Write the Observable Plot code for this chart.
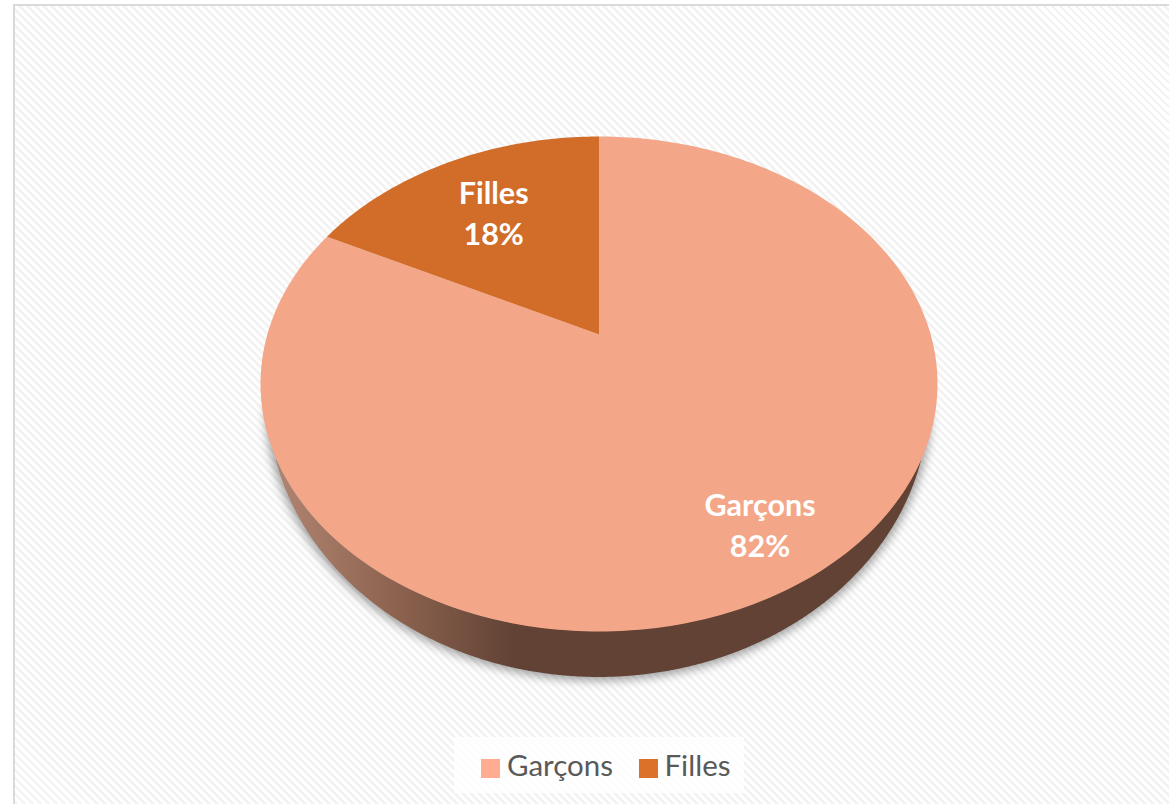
<!DOCTYPE html>
<html lang="fr">
<head>
<meta charset="utf-8">
<title>Garçons / Filles</title>
<script src="https://cdn.jsdelivr.net/npm/d3@7"></script>
<script src="https://cdn.jsdelivr.net/npm/@observablehq/plot@0.6"></script>
<style>
  html, body { margin: 0; padding: 0; background: #fff; }
  #page { position: relative; width: 1169px; height: 804px; overflow: hidden; font-family: Lato, "Open Sans", sans-serif; }
  #panel {
    position: absolute; left: 13px; top: 4px; right: 0; bottom: 0; box-sizing: border-box;
    border-left: 2px solid #d9d9d9; border-top: 2px solid #d9d9d9;
    background: repeating-linear-gradient(45deg, #f3f3f3 0 2.8px, #ffffff 2.8px 5.66px);
  }
  #chart { position: absolute; left: 0; top: 0; }
  #legend {
    position: absolute; left: 454px; top: 737px; width: 290px; height: 56px;
    background: rgba(255,255,255,.82); color: #595959; font-size: 29.5px; line-height: 56px;
  }
  #legend .item { position: absolute; top: 0; white-space: nowrap; }
  #legend i { display: inline-block; width: 19px; height: 19px; margin-right: 7px; vertical-align: -2px; }
</style>
</head>
<body>
<div id="page">
  <div id="panel"></div>
  <div id="chart"></div>
  <div id="legend"></div>
</div>
<script>
const categories = ["Garçons", "Filles"];
const shares = [82.4, 17.6];
const sliceColors = ["#F3A688", "#D16D29"];
const legendColors = ["#FFAC90", "#DC7129"];

// The disc is seen in perspective: its hub sits above the centre of the rim ellipse.
const tilt = -0.2;
const project = (u, v) => {
  const d = 1 + tilt * v;
  return [u * Math.sqrt(1 - tilt * tilt) / d, (v + tilt) / d];
};
const onDisc = (deg, r = 1) => {
  const a = deg * Math.PI / 180;
  return project(r * Math.sin(a), -r * Math.cos(a));
};

const total = d3.sum(shares);
const sliceRows = [];
const labelRows = [];
let start = 0;
categories.forEach((category, i) => {
  const end = start + shares[i] / total * 360;
  const ring = [onDisc(0, 0)];
  for (const deg of d3.range(start, end, 1).concat(end)) ring.push(onDisc(deg));
  ring.push(onDisc(0, 0));
  ring.forEach(([x, y]) => sliceRows.push({category, x, y}));
  const [lx, ly] = onDisc((start + end) / 2, i === 0 ? 0.82 : 0.66);
  labelRows.push({x: lx, y: ly, text: `${category}\n${Math.round(shares[i])}%`});
  start = end;
});

// Rim of the disc's underside, in the same normalised coordinates.
const under = {a: 0.975, b: 1.111, c: 0.0747};
const underY = (x, k = 1) => under.c + under.b * k * Math.sqrt(Math.max(0, 1 - (x / (under.a * k)) ** 2));
const topY = x => Math.sqrt(Math.max(0, 1 - x * x));
const sideEnd = 0.9525;
const sideRows = d3.range(-sideEnd, sideEnd + 1e-9, 0.005).map(x => ({x, y1: topY(x), y2: Math.max(topY(x), underY(x))}));
const shadowEnd = under.a * 1.01;
const shadowRows = d3.range(-shadowEnd, shadowEnd + 1e-9, 0.005).map(x => ({x, y1: 0.1, y2: underY(x, 1.01) + 0.004}));

const defs = () => {
  const d = d3.create("svg:defs");
  const g = d.append("linearGradient").attr("id", "side");
  [[0, "#B08470"], [0.18, "#8E6450"], [0.37, "#614235"], [1, "#614235"]]
    .forEach(([o, c]) => g.append("stop").attr("offset", o).attr("stop-color", c));
  return d.node();
};

const labelStyle = {x: "x", y: "y", text: "text", fill: "#fff", fontSize: 30.5, fontWeight: 700, fontFamily: "Lato", lineHeight: 1.35};

const chart = Plot.plot({
  width: 1169,
  height: 804,
  margin: 0,
  style: {background: "transparent"},
  x: {axis: null, domain: [-1, 1], range: [260, 937]},
  y: {axis: null, domain: [-1, 1], range: [136, 631]},
  color: {domain: categories, range: sliceColors},
  marks: [
    defs,
    Plot.areaY(shadowRows, {x: "x", y1: "y1", y2: "y2", fill: "#555", fillOpacity: 0.55, imageFilter: "blur(5px)"}),
    Plot.areaY(sideRows, {x: "x", y1: "y1", y2: "y2", fill: "url(#side)"}),
    Plot.line(sliceRows, {x: "x", y: "y", z: "category", fill: "category", stroke: "none"}),
    Plot.text(labelRows.slice(0, 1), {...labelStyle, dx: -5, dy: -4}),
    Plot.text(labelRows.slice(1), {...labelStyle, dx: -2, dy: -3})
  ]
});
document.getElementById("chart").append(chart);

const legend = d3.select("#legend");
const legendLeft = [27, 184.5];
categories.forEach((c, i) => {
  const item = legend.append("span").attr("class", "item").style("left", legendLeft[i] + "px");
  item.append("i").style("background", legendColors[i]);
  item.append("span").text(c);
});
</script>
</body>
</html>
